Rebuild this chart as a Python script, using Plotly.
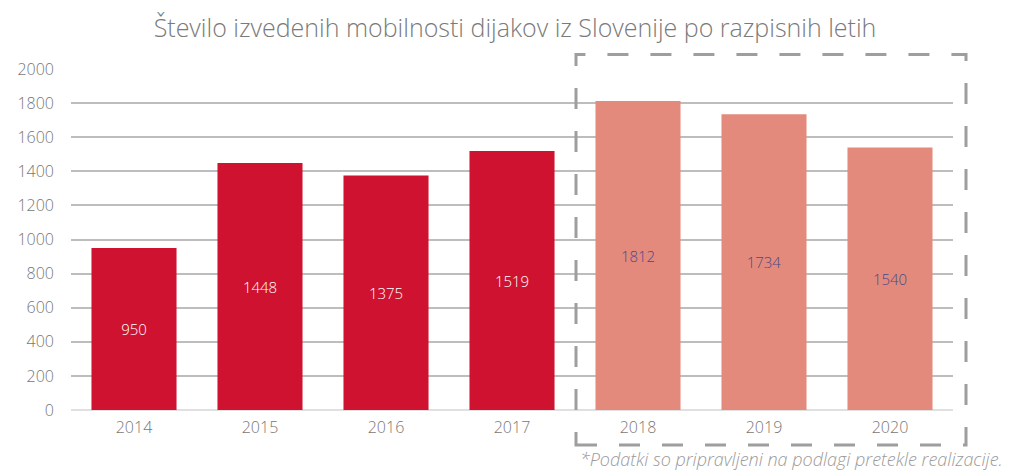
import plotly.graph_objects as go

years = ["2014", "2015", "2016", "2017", "2018", "2019", "2020"]
values = [950, 1448, 1375, 1519, 1812, 1734, 1540]
bar_colors = ["#CE1230"] * 4 + ["#E48A7C"] * 3
label_colors = ["#FFFFFF"] * 4 + ["#474A86"] * 3
y_ticks = [0, 200, 400, 600, 800, 1000, 1200, 1400, 1600, 1800, 2000]

FONT = "Open Sans"
# page body has an 8px margin; plot area in screen px: x 71..953, y 68.5..410
W, H = 1007, 462
L, T = 63, 60.5
PW, PH = 882, 341.5

fig = go.Figure(go.Bar(
    x=years, y=values,
    marker=dict(color=bar_colors, line=dict(width=0)),
    text=[str(v) for v in values],
    textposition="inside", insidetextanchor="middle",
    textfont=dict(color=label_colors, size=15, family=FONT, weight=300),
    textangle=0,
    hoverinfo="x+y",
))

fig.update_layout(
    width=W, height=H,
    margin=dict(l=L, r=W - L - PW, t=T, b=H - T - PH, autoexpand=False),
    plot_bgcolor="white", paper_bgcolor="white",
    bargap=0.325,
    showlegend=False,
    font=dict(family=FONT, color="#777777"),
    title=dict(
        text="Število izvedenih mobilnosti dijakov iz Slovenije po razpisnih letih",
        x=(515 - 8) / W, xanchor="center", xref="container",
        y=1 - 20 / H, yanchor="middle", yref="container",
        font=dict(size=25, color="#7A7A7A", family=FONT, weight=300),
    ),
    xaxis=dict(
        type="category", showgrid=False, ticks="", showline=False,
        tickfont=dict(size=16, color="#777777", weight=300),
        ticklabelstandoff=6,
    ),
    yaxis=dict(
        range=[0, 2000], tickvals=y_ticks, showgrid=True,
        gridcolor="#BDBDBD", gridwidth=1.5,
        zeroline=True, zerolinecolor="#E0E0E0", zerolinewidth=2,
        ticks="", ticklabelstandoff=16,
        tickfont=dict(size=16, color="#777777", weight=300),
    ),
    shapes=[dict(
        type="rect", xref="paper", yref="paper",
        x0=(576 - 71) / PW, x1=(966 - 71) / PW,
        y0=(410 - 445) / PH, y1=(410 - 54) / PH,
        line=dict(color="#9E9E9E", width=3, dash="21px,22px"),
        fillcolor="rgba(0,0,0,0)", layer="above",
    )],
    annotations=[dict(
        text="<i>*Podatki so pripravljeni na podlagi pretekle realizacije.</i>",
        xref="paper", yref="paper", x=(1005 - 71) / PW, y=(410 - 459) / PH,
        xanchor="right", yanchor="middle", showarrow=False,
        font=dict(size=18, color="#9A9A9A", family=FONT, weight=300),
    )],
)

fig.write_html("out.html")
